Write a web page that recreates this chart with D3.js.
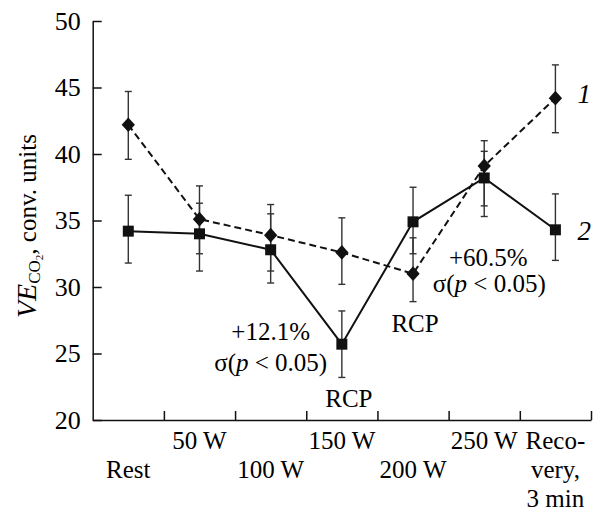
<!DOCTYPE html>
<html>
<head>
<meta charset="utf-8">
<script src="https://cdn.jsdelivr.net/npm/d3@7"></script>
<style>
    body { margin: 0; background: #fff; }
    svg { display: block; }
    text { font-family: "Liberation Serif", "Times New Roman", serif; fill: #000; }
</style>
</head>
<body>
<div id="chart"></div>
<script>
// categories on the x axis (bands), label rows alternate
const categories = ["Rest", "50 W", "100 W", "150 W", "200 W", "250 W", "Recovery"];
const categoryLabels = [["Rest"], ["50 W"], ["100 W"], ["150 W"], ["200 W"], ["250 W"], ["Reco-", "very,", "3 min"]];
const labelRows = [2, 1, 2, 1, 2, 1, 1];

// series 1 (diamonds, dashed)
const series1 = [42.2, 35.1, 33.9, 32.6, 31.0, 39.1, 44.2];
const series1Upper = [44.7, 37.6, 36.2, 35.2, 33.7, 41.0, 46.7];
const series1Lower = [39.6, 32.5, 31.2, 30.2, 28.9, 36.1, 41.6];

// series 2 (squares, solid)
const series2 = [34.2, 34.0, 32.8, 25.7, 34.9, 38.2, 34.3];
const series2Upper = [36.9, 36.3, 35.5, 28.2, 37.5, 40.2, 37.0];
const series2Lower = [31.8, 31.2, 30.3, 23.2, 32.5, 35.3, 32.0];

const yTicks = [20, 25, 30, 35, 40, 45, 50];

const size = {width: 596, height: 512};
const plot = {left: 92.7, right: 591, top: 21, bottom: 420};

let svg = d3.select("#chart").append("svg")
    .attr("width", size.width)
    .attr("height", size.height);

const x = d3.scaleBand().domain(categories).range([plot.left, plot.right]).padding(0);
const xEdge = d3.scaleLinear().domain([0, categories.length]).range([plot.left, plot.right]);
const y = d3.scaleLinear().domain([20, 50]).range([plot.bottom, plot.top]);
const cx = c => x(c) + x.bandwidth() / 2;

// y axis, ticks pointing inward
let yAxis = svg.append("g")
    .attr("transform", `translate(${plot.left},0)`)
    .call(d3.axisLeft(y).tickValues(yTicks).tickSizeInner(-9).tickSizeOuter(0).tickPadding(12));
yAxis.selectAll("text")
    .style("font-size", "26px")
    .style("font-family", "'Liberation Serif', serif")
    .attr("fill", "#000");

// x axis, ticks at band edges
let xAxis = svg.append("g")
    .attr("transform", `translate(0,${plot.bottom})`)
    .call(d3.axisBottom(xEdge).tickValues(d3.range(1, categories.length + 1)).tickSizeInner(-9).tickSizeOuter(0).tickFormat(""));
svg.selectAll(".domain, .tick line").attr("stroke", "#111").attr("stroke-width", 1.5);

// x labels in two staggered rows
const rowY = {1: 449, 2: 478};
categories.forEach((c, i) => {
    categoryLabels[i].forEach((line, j) => {
        svg.append("text")
            .attr("x", cx(c))
            .attr("y", rowY[labelRows[i]] + j * 29)
            .attr("text-anchor", "middle")
            .style("font-size", "25px")
            .text(line);
    });
});

// y axis title
let yTitle = svg.append("text")
    .attr("transform", "translate(36,318) rotate(-90)")
    .attr("text-anchor", "start");
yTitle.append("tspan").style("font-style", "italic").style("font-size", "28px").text("VE");
yTitle.append("tspan").style("font-size", "17px").attr("dy", 4).text("CO");
yTitle.append("tspan").style("font-size", "11px").attr("dy", 3).text("2");
yTitle.append("tspan").style("font-size", "25px").attr("dy", -7).text(", conv. units");

const series = [
    {values: series1, upper: series1Upper, lower: series1Lower, dash: "7,4", marker: "diamond"},
    {values: series2, upper: series2Upper, lower: series2Lower, dash: null, marker: "square"}
];

// error bars
series.forEach(s => {
    let g = svg.append("g").attr("stroke", "#333").attr("stroke-width", 1.4);
    categories.forEach((c, i) => {
        g.append("line").attr("x1", cx(c)).attr("x2", cx(c)).attr("y1", y(s.upper[i])).attr("y2", y(s.lower[i]));
        g.append("line").attr("x1", cx(c) - 3.5).attr("x2", cx(c) + 3.5).attr("y1", y(s.upper[i])).attr("y2", y(s.upper[i]));
        g.append("line").attr("x1", cx(c) - 3.5).attr("x2", cx(c) + 3.5).attr("y1", y(s.lower[i])).attr("y2", y(s.lower[i]));
    });
});

// lines
const line = d3.line().x((d, i) => cx(categories[i])).y(d => y(d));
series.forEach(s => {
    svg.append("path")
        .datum(s.values)
        .attr("d", line)
        .attr("fill", "none")
        .attr("stroke", "#111")
        .attr("stroke-width", 2)
        .attr("stroke-dasharray", s.dash);
});

// markers
const diamond = {
    draw: function(ctx, size) {
        const r = Math.sqrt(size) / 2;
        ctx.moveTo(0, -r * 1.05);
        ctx.lineTo(r * 0.95, 0);
        ctx.lineTo(0, r * 1.05);
        ctx.lineTo(-r * 0.95, 0);
        ctx.closePath();
    }
};
series.forEach(s => {
    svg.selectAll(null)
        .data(s.values)
        .enter()
        .append("path")
        .attr("transform", (d, i) => `translate(${cx(categories[i])},${y(d)})`)
        .attr("d", s.marker === "square" ? d3.symbol(d3.symbolSquare, 121)() : d3.symbol(diamond, 196)())
        .attr("fill", "#111");
});

// annotations
const notes = [
    {cat: "100 W", dx: 0, v: 26.0, parts: [["+12.1%", false]]},
    {cat: "100 W", dx: 0, v: 23.7, parts: [["σ(", false], ["p", true], [" < 0.05)", false]]},
    {cat: "150 W", dx: 7, v: 21.0, parts: [["RCP", false]]},
    {cat: "250 W", dx: 4, v: 31.6, parts: [["+60.5%", false]]},
    {cat: "250 W", dx: 5, v: 29.6, parts: [["σ(", false], ["p", true], [" < 0.05)", false]]},
    {cat: "200 W", dx: 2, v: 26.6, parts: [["RCP", false]]}
];
notes.forEach(n => {
    let t = svg.append("text")
        .attr("x", cx(n.cat) + n.dx)
        .attr("y", y(n.v))
        .attr("text-anchor", "middle")
        .style("font-size", "25px");
    n.parts.forEach(p => {
        t.append("tspan").style("font-style", p[1] ? "italic" : "normal").text(p[0]);
    });
});

// series numbers
svg.append("text").attr("x", cx("Recovery") + 22).attr("y", y(43.8))
    .style("font-size", "27px").style("font-style", "italic").text("1");
svg.append("text").attr("x", cx("Recovery") + 22).attr("y", y(33.5))
    .style("font-size", "27px").style("font-style", "italic").text("2");
</script>
</body>
</html>
